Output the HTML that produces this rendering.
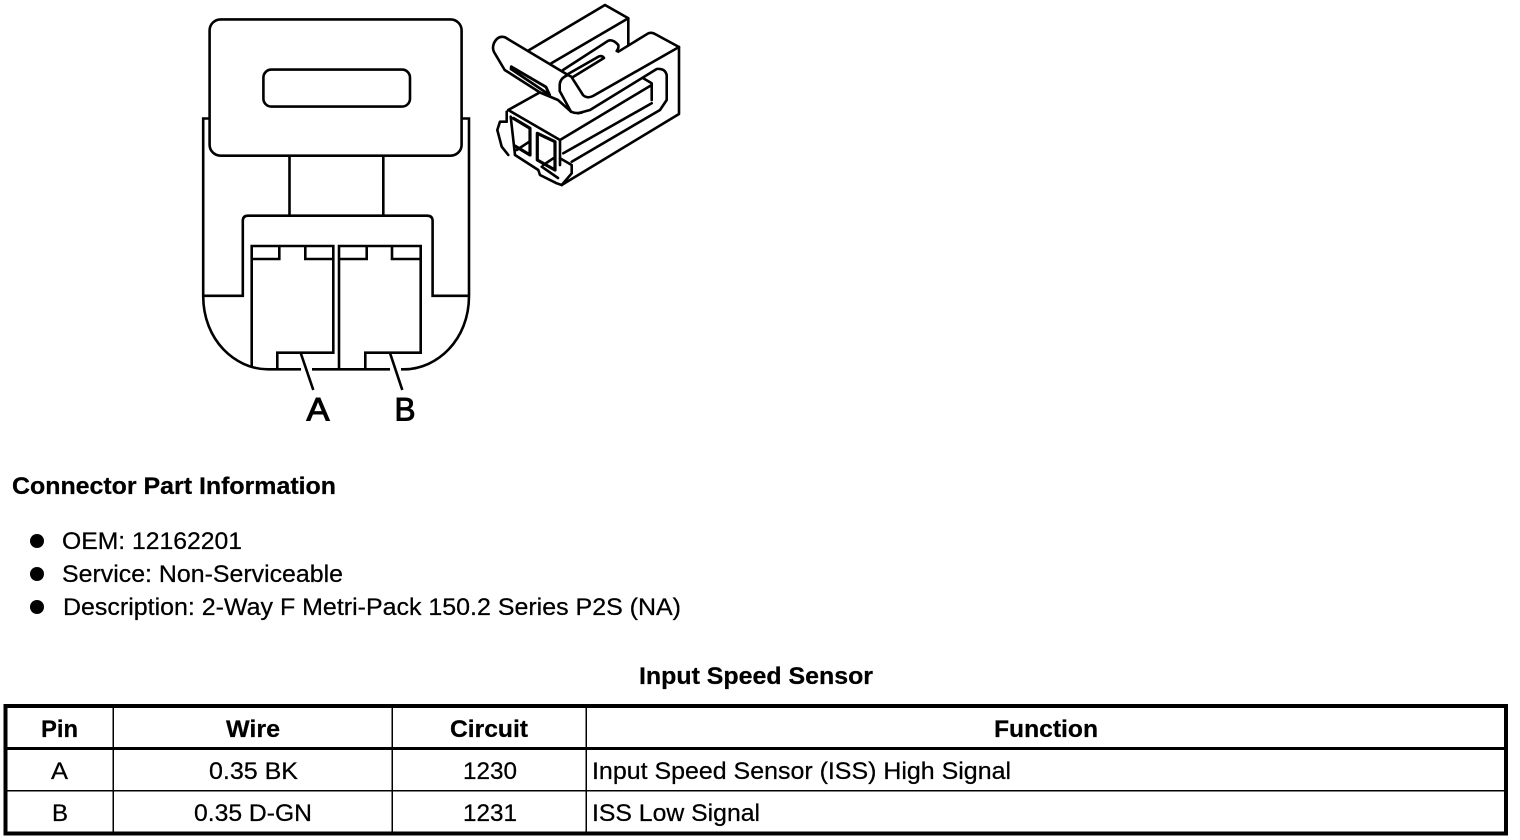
<!DOCTYPE html>
<html>
<head>
<meta charset="utf-8">
<style>
html,body{margin:0;padding:0;background:#fff;width:1520px;height:840px;overflow:hidden}
svg{display:block}
text{font-family:"Liberation Sans",sans-serif;fill:#000;stroke:#000;stroke-width:0.25px}
.b{font-weight:bold;font-size:24px}
.r{font-size:24px}
.l{font-size:32px;stroke-width:1px}
</style>
</head>
<body>
<svg width="1520" height="840" viewBox="0 0 1520 840" xmlns="http://www.w3.org/2000/svg">
<rect width="1520" height="840" fill="#fff"/>

<!-- Left connector -->
<g fill="none" stroke="#000" stroke-width="2.6">
  <path d="M209.5,118.5H203.2V296C203.2,340 235,369.3 268,369.3H301M312,369.3H390M401,369.3H404C437,369.3 469,340 469,296V118.5H462"/>
  <path d="M203,295.8H242.8V221Q242.8,215.7 248,215.7H427Q432.6,215.7 432.6,221V295.8H469" />
  <rect x="209.6" y="19.4" width="252" height="136.3" rx="11" fill="#fff"/>
  <rect x="263.4" y="69.6" width="146.6" height="37" rx="8"/>
  <path d="M289.5,156V215M383.3,156V215"/>
  <path d="M251.7,367V246H333.3V352.7H277.3V369"/>
  <path d="M251.7,259H279.3V246M333.3,259H305.3V246"/>
  <path d="M339,369V246H420.7V352.7H365.3V369"/>
  <path d="M339,259H366.7V246M420.7,259H392V246"/>
  <path d="M300.7,353L313.3,390M390,353L402.3,390"/>
</g>
<text class="l" x="306.5" y="420.5" textLength="23" lengthAdjust="spacingAndGlyphs">A</text>
<text class="l" x="394.5" y="420.5" textLength="21" lengthAdjust="spacingAndGlyphs">B</text>

<!-- 3D connector -->
<g fill="none" stroke="#000" stroke-width="2.6" stroke-linejoin="round" stroke-linecap="round">
  <path d="M528,50.7L605,5L628.3,18.3V45"/>
  <path d="M628.3,18.3L551.3,63.3"/>
  <path d="M563,70L608.3,40.7Q613,39 618.3,45Q619,48 616.7,51"/>
  <path d="M566.3,75L598.3,56.7Q602,55 604,58L573,77"/>
  <path d="M618.3,51.7L648.3,33.3Q652,32 655,34L679,47V114L561.7,185"/>
  <path d="M568,75L571.3,76.7L583,95Q587,99 593,96L679,47"/>
  <path d="M578,113.3L590,110L656.7,69Q665,68 666.7,75V100L660,110L571.7,161.7"/>
  <path d="M560,140L651.7,85"/>
  <path d="M643.3,78.3L651.7,83.3V100"/>
  <path d="M651.7,103.3L563.3,153.3"/>
  <path d="M505,37.3Q498,35 494,43Q492,48 494,52L504.7,70L540,92.5L558,100L571,111.7Q576,114 582,112.5"/>
  <path d="M505,37.3L568,75Q560,78 559.7,85V91L571,111.7"/>
  <path d="M511.3,66.7L546,87L549.7,95L511,69Z" stroke-width="2.8"/>
  <path d="M508.3,110L538.3,93.3"/>
  <path d="M508.3,110L560,140V165"/>
  <path d="M506.7,111.7V121.7H500L497.3,130L501.7,146.7L508.3,155"/>
  <path d="M510.7,116.7L515,155"/>
  <path d="M513.3,118.3L530,128.3V155L515,146" stroke-width="3.2"/>
  <path d="M516.7,150L529.3,141.7"/>
  <path d="M537.3,133.3L555,141.7V170L537.3,160Z" stroke-width="3.2"/>
  <path d="M543.3,165L553.3,158.3"/>
  <path d="M515,155L538.3,170L540,175L556.7,183.3L561.7,185L571.7,173.3V165L560,158.3"/>
  <path d="M541.7,166.7L558,178"/>
</g>

<!-- Part information -->
<text class="b" x="12" y="494" textLength="324" lengthAdjust="spacingAndGlyphs">Connector Part Information</text>
<circle cx="37" cy="541" r="7"/>
<circle cx="37" cy="574" r="7"/>
<circle cx="37" cy="607" r="7"/>
<text class="r" x="62" y="549" textLength="180" lengthAdjust="spacingAndGlyphs">OEM: 12162201</text>
<text class="r" x="62" y="582" textLength="281" lengthAdjust="spacingAndGlyphs">Service: Non-Serviceable</text>
<text class="r" x="63" y="615" textLength="618" lengthAdjust="spacingAndGlyphs">Description: 2-Way F Metri-Pack 150.2 Series P2S (NA)</text>

<!-- Table -->
<text class="b" x="639" y="684" textLength="234" lengthAdjust="spacingAndGlyphs">Input Speed Sensor</text>
<rect x="5.5" y="706" width="1500.5" height="127.5" fill="none" stroke="#000" stroke-width="4"/>
<rect x="6" y="747" width="1500" height="3"/>
<rect x="6" y="790" width="1500" height="1.5"/>
<rect x="112.5" y="706" width="1.5" height="127"/>
<rect x="391.5" y="706" width="1.5" height="127"/>
<rect x="585.5" y="706" width="1.5" height="127"/>

<text class="b" x="41" y="737" textLength="37" lengthAdjust="spacingAndGlyphs">Pin</text>
<text class="b" x="226" y="737" textLength="54" lengthAdjust="spacingAndGlyphs">Wire</text>
<text class="b" x="450" y="737" textLength="78" lengthAdjust="spacingAndGlyphs">Circuit</text>
<text class="b" x="994" y="737" textLength="104" lengthAdjust="spacingAndGlyphs">Function</text>

<text class="r" x="51" y="779" textLength="17" lengthAdjust="spacingAndGlyphs">A</text>
<text class="r" x="209" y="779" textLength="89" lengthAdjust="spacingAndGlyphs">0.35 BK</text>
<text class="r" x="463" y="779" textLength="54" lengthAdjust="spacingAndGlyphs">1230</text>
<text class="r" x="592" y="779" textLength="419" lengthAdjust="spacingAndGlyphs">Input Speed Sensor (ISS) High Signal</text>

<text class="r" x="52" y="821" textLength="16" lengthAdjust="spacingAndGlyphs">B</text>
<text class="r" x="194" y="821" textLength="118" lengthAdjust="spacingAndGlyphs">0.35 D-GN</text>
<text class="r" x="463" y="821" textLength="54" lengthAdjust="spacingAndGlyphs">1231</text>
<text class="r" x="592" y="821" textLength="168" lengthAdjust="spacingAndGlyphs">ISS Low Signal</text>
</svg>
</body>
</html>
